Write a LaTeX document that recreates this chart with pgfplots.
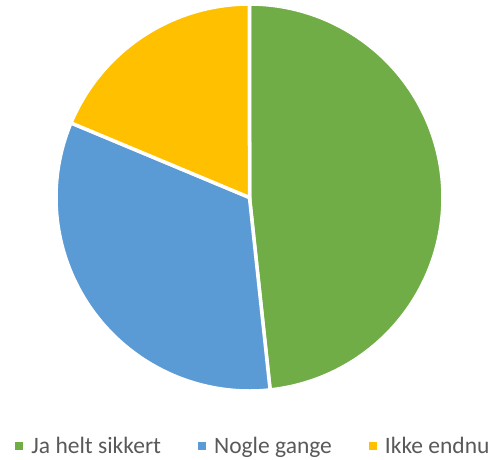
\documentclass[border=0pt]{standalone}
\usepackage{pgfplots}
\pgfplotsset{compat=1.18}
\usepackage{fontspec}
\setmainfont{Carlito}
\definecolor{cgreen}{HTML}{70AD47}
\definecolor{cblue}{HTML}{5B9BD5}
\definecolor{cyellow}{HTML}{FFC000}
\definecolor{ctext}{HTML}{595959}
% shares (percent), clockwise from 12 o'clock
\def\pA{48.3}\def\pB{33.0}\def\pC{18.7}
\pgfmathsetmacro{\aA}{90}
\pgfmathsetmacro{\aB}{90-3.6*\pA}
\pgfmathsetmacro{\aC}{\aB-3.6*\pB}
\pgfmathsetmacro{\aD}{\aC-3.6*\pC}
\begin{document}
\begin{tikzpicture}[x=1pt,y=1pt]
\begin{axis}[
  at={(0,0)}, anchor=center,
  x=193.5pt, y=193.5pt,
  xmin=-1, xmax=1, ymin=-1, ymax=1,
  hide axis, clip=false,
  legend columns=3,
  legend image code/.code={\fill[#1,draw=none] (0pt,-4pt) rectangle (8pt,4pt);},
  legend style={at={(axis cs:0.0155,-1.285)}, anchor=center, draw=none, fill=none,
    inner sep=0pt, outer sep=0pt,
    nodes={inner sep=0pt, text=ctext},
    font=\fontsize{23.5}{28}\selectfont,
    /tikz/every odd column/.append style={column sep=8pt},
    /tikz/every even column/.append style={column sep=37pt}},
]
\addplot[fill=cgreen, draw=white, line width=3.5pt, domain=\aA:\aB, samples=150, variable=\t]
  ({cos(t)},{sin(t)}) -- (axis cs:0,0) -- cycle;
\addlegendentry{Ja helt sikkert}
\addplot[fill=cblue, draw=white, line width=3.5pt, domain=\aB:\aC, samples=120, variable=\t]
  ({cos(t)},{sin(t)}) -- (axis cs:0,0) -- cycle;
\addlegendentry{Nogle gange}
\addplot[fill=cyellow, draw=white, line width=3.5pt, domain=\aC:\aD, samples=80, variable=\t]
  ({cos(t)},{sin(t)}) -- (axis cs:0,0) -- cycle;
\addlegendentry{Ikke endnu}
\end{axis}
\pgfresetboundingbox
\path[use as bounding box] (-249.5,-261.5) rectangle (247.5,197.5);
\end{tikzpicture}
\end{document}
